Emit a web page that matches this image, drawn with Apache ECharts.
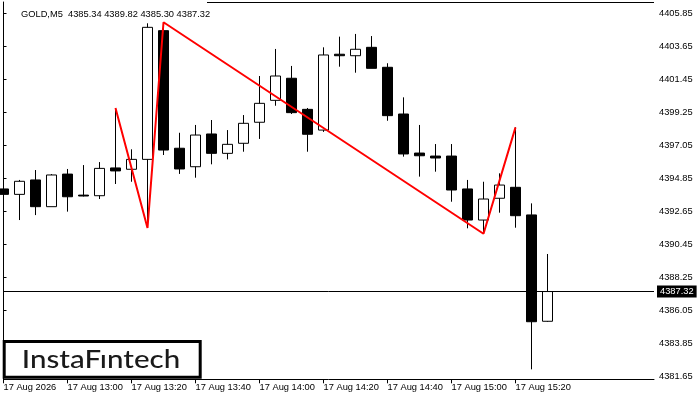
<!DOCTYPE html>
<html>
<head>
<meta charset="utf-8">
<script src="https://cdn.jsdelivr.net/npm/echarts@6/dist/echarts.min.js"></script>
<style>html,body{margin:0;padding:0;background:#fff}#c{width:700px;height:400px}</style>
</head>
<body>
<div id="c"></div>
<script>
const categories = ['12:40','12:45','12:50','12:55','13:00','13:05','13:10','13:15','13:20','13:25','13:30','13:35','13:40','13:45','13:50','13:55','14:00','14:05','14:10','14:15','14:20','14:25','14:30','14:35','14:40','14:45','14:50','14:55','15:00','15:05','15:10','15:15','15:20','15:25','15:30'];
const openV  = [4394.15,4393.79,4394.75,4392.97,4395.14,4393.74,4393.70,4395.55,4395.46,4396.12,4404.69,4396.86,4395.63,4397.81,4396.52,4397.19,4398.59,4400.05,4401.52,4399.45,4398.07,4403.12,4403.02,4403.58,4402.25,4399.14,4396.54,4396.34,4396.34,4394.15,4392.08,4393.53,4394.26,4392.42,4385.34];
const highV  = [4396.03,4394.75,4395.41,4395.14,4395.48,4395.74,4395.94,4399.54,4396.79,4405.18,4405.25,4397.89,4398.41,4398.74,4398.07,4399.07,4401.67,4403.47,4402.34,4399.54,4403.58,4404.29,4404.47,4404.33,4402.52,4400.25,4398.41,4397.14,4397.14,4394.75,4394.63,4395.19,4398.25,4393.19,4389.82];
const lowV   = [4393.13,4392.08,4392.41,4392.97,4392.64,4393.65,4393.48,4394.48,4394.63,4391.55,4396.41,4395.15,4394.90,4395.79,4396.12,4396.63,4397.48,4399.69,4399.14,4396.63,4397.95,4402.29,4401.89,4402.18,4398.69,4396.30,4394.97,4395.30,4393.30,4391.53,4391.17,4392.57,4391.57,4382.14,4385.30];
const closeV = [4393.79,4394.66,4392.97,4395.08,4393.63,4393.68,4395.52,4395.35,4396.12,4404.91,4396.74,4395.48,4397.74,4396.52,4397.12,4398.52,4399.85,4401.67,4399.23,4397.79,4403.07,4403.02,4403.45,4402.18,4399.03,4396.48,4396.36,4396.21,4394.08,4392.08,4393.48,4394.41,4392.37,4385.31,4387.32];

const patternTimes  = ['13:15','13:25','13:30','15:10','15:20'];
const patternValues = [4399.54,4391.55,4405.25,4391.17,4398.25];

const xTickTimes  = ['12:40','13:00','13:20','13:40','14:00','14:20','14:40','15:00','15:20'];
const xTickLabels = ['17 Aug 2026','17 Aug 13:00','17 Aug 13:20','17 Aug 13:40','17 Aug 14:00','17 Aug 14:20','17 Aug 14:40','17 Aug 15:00','17 Aug 15:20'];
const yTickLabels = ['4381.65','4383.85','4386.05','4388.25','4390.45','4392.65','4394.85','4397.05','4399.25','4401.45','4403.65','4405.85'];

const symbolName = 'GOLD,M5';
const logoText = 'InstaF\u0131ntech';

const candleData = categories.map((t, i) => [i, openV[i], closeV[i], lowV[i], highV[i]]);
const patternData = patternTimes.map((t, i) => [categories.indexOf(t), patternValues[i]]);
const xTickPos = xTickTimes.map(t => categories.indexOf(t));
const yTickVals = yTickLabels.map(Number);
const last = categories.length - 1;
const currentPrice = closeV[last];
const titleText = symbolName + '  ' + [openV[last], highV[last], lowV[last], closeV[last]].map(v => v.toFixed(2)).join(' ');

const FONT = 'Liberation Sans';
const chart = echarts.init(document.getElementById('c'), null, {renderer: 'canvas'});
chart.setOption({
  animation: false,
  backgroundColor: '#ffffff',
  title: {
    text: titleText, left: 16, top: 5,
    textStyle: {fontFamily: FONT, fontSize: 9.3, fontWeight: 'normal', color: '#000'}
  },
  grid: {left: 3.5, right: 46, top: 2, bottom: 20.7, containLabel: false},
  xAxis: {
    type: 'value', min: 0, max: 40.656, scale: true,
    axisLine: {show: true, lineStyle: {color: '#000', width: 1}},
    axisTick: {show: true, customValues: xTickPos, length: 4, lineStyle: {color: '#000'}},
    axisLabel: {
      show: true, customValues: xTickPos, align: 'left', margin: 4,
      fontFamily: FONT, fontSize: 9.3, color: '#000',
      formatter: v => { const k = xTickPos.indexOf(Math.round(v)); return k >= 0 ? xTickLabels[k] : ''; }
    },
    splitLine: {show: false}
  },
  yAxis: {
    type: 'value', position: 'right', min: 4381.477, max: 4406.597, scale: true,
    axisLine: {show: true, lineStyle: {color: '#000', width: 1}},
    axisTick: {show: true, customValues: yTickVals, length: 3, lineStyle: {color: '#000'}},
    axisLabel: {
      show: true, customValues: yTickVals, margin: 5,
      fontFamily: FONT, fontSize: 9.3, color: '#000',
      formatter: v => v.toFixed(2)
    },
    splitLine: {show: false}
  },
  graphic: [
    {type: 'line', shape: {x1: 207, y1: 2.5, x2: 654, y2: 2.5}, style: {stroke: '#000', lineWidth: 1}, z: 10},
    {type: 'rect', shape: {x: 4.2, y: 341.5, width: 196, height: 35.7}, style: {fill: '#fff', stroke: '#000', lineWidth: 3}, z: 20},
    {type: 'text', x: 101, y: 359.5, scaleX: 1.18, style: {text: logoText, font: '500 25px Lato', fill: '#1a1a1a', textAlign: 'center', textVerticalAlign: 'middle'}, z: 21}
  ],
  series: [
    {
      type: 'candlestick',
      data: candleData,
      barWidth: 10,
      clip: true,
      itemStyle: {color: '#ffffff', color0: '#000000', borderColor: '#000000', borderColor0: '#000000', borderWidth: 1},
      markLine: {
        silent: true, symbol: ['none', 'none'], animation: false,
        lineStyle: {color: '#000', width: 1, type: 'solid'},
        label: {
          show: true, position: 'end', distance: 3,
          formatter: () => currentPrice.toFixed(2),
          backgroundColor: '#000', color: '#fff', padding: [2, 3, 1, 3],
          fontFamily: FONT, fontSize: 9.3
        },
        data: [{yAxis: currentPrice}]
      }
    },
    {
      type: 'line',
      data: patternData,
      symbol: 'none',
      lineStyle: {color: '#ff0000', width: 2},
      z: 5
    }
  ]
});
</script>
</body>
</html>
